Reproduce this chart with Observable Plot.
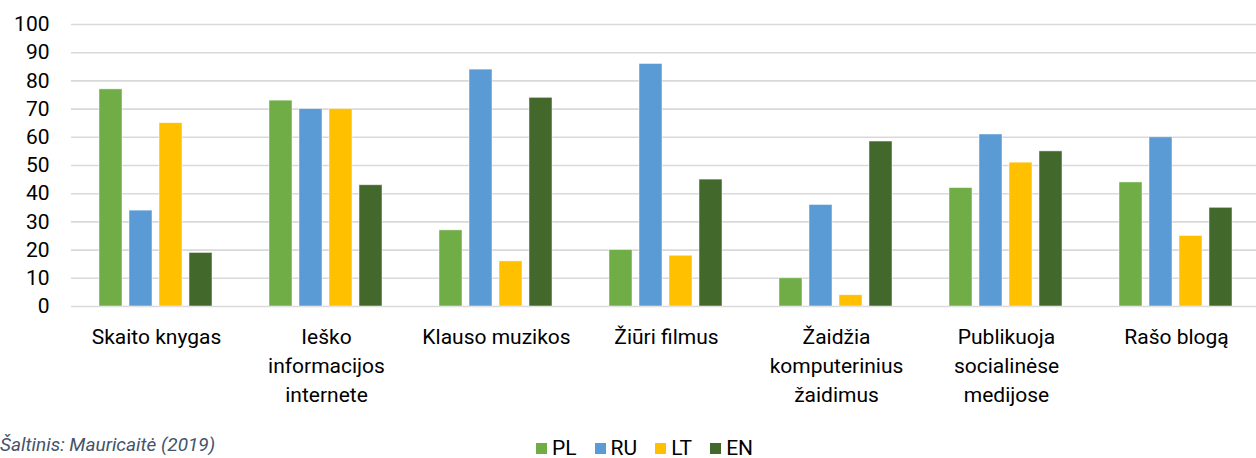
<!DOCTYPE html>
<html>
<head>
<meta charset="utf-8">
<script src="https://cdn.jsdelivr.net/npm/d3@7"></script>
<script src="https://cdn.jsdelivr.net/npm/@observablehq/plot@0.6"></script>
<style>
  html, body { margin: 0; padding: 0; background: #fff; overflow: hidden; }
  body { position: relative; width: 1256px; height: 458px; font-family: Roboto, "Open Sans", sans-serif; }
  #legend { position: absolute; left: 536px; top: 436px; display: flex; align-items: center; font-size: 21px; color: #000; }
  #legend .item { display: flex; align-items: center; margin-right: 18px; }
  #legend .sw { width: 11px; height: 11px; margin-right: 5px; }
  #caption { position: absolute; left: 0; top: 433px; font-size: 19px; line-height: 23px; font-style: italic; color: #44546A; white-space: nowrap; }
</style>
</head>
<body>
<div id="chart"></div>
<div id="legend"></div>
<div id="caption">Šaltinis: Mauricaitė (2019)</div>
<script>
const categories = ["Skaito knygas", "Ieško informacijos internete", "Klauso muzikos", "Žiūri filmus", "Žaidžia komputerinius žaidimus", "Publikuoja socialinėse medijose", "Rašo blogą"];
const categoryLabels = ["Skaito knygas", "Ieško\ninformacijos\ninternete", "Klauso muzikos", "Žiūri filmus", "Žaidžia\nkomputerinius\nžaidimus", "Publikuoja\nsocialinėse\nmedijose", "Rašo blogą"];
const series = ["PL", "RU", "LT", "EN"];
const colors = ["#70AD47", "#5B9BD5", "#FFC000", "#43682B"];
const valuesPL = [77, 73, 27, 20, 10, 42, 44];
const valuesRU = [34, 70, 84, 86, 36, 61, 60];
const valuesLT = [65, 70, 16, 18, 4, 51, 25];
const valuesEN = [19, 43, 74, 45, 58.5, 55, 35];
const yTicks = [0, 10, 20, 30, 40, 50, 60, 70, 80, 90, 100];

const seriesValues = [valuesPL, valuesRU, valuesLT, valuesEN];
const data = [];
categories.forEach((c, i) => {
  series.forEach((s, j) => data.push({category: c, series: s, value: seriesValues[j][i]}));
});

const chart = Plot.plot({
  width: 1256,
  height: 420,
  marginLeft: 68,
  marginRight: -7,
  marginTop: 24,
  marginBottom: 114,
  style: {fontFamily: "Roboto, 'Open Sans', sans-serif", fontSize: "21px", color: "#000", background: "white", overflow: "hidden"},
  fx: {domain: categories, padding: 0, label: null},
  x: {domain: series, paddingInner: 0.22, paddingOuter: 0.87, axis: null},
  y: {domain: [0, 100], label: null},
  color: {domain: series, range: colors},
  marks: [
    Plot.gridY(yTicks, {stroke: "#d9d9d9", strokeOpacity: 1, strokeWidth: 1.6}),
    Plot.barY(data, {fx: "category", x: "series", y: "value", fill: "series", stroke: "#ffffff", strokeOpacity: 0.6, strokeWidth: 0.8}),
    Plot.axisY(yTicks, {tickSize: 0, tickPadding: 22, fontSize: 21, label: null}),
    Plot.axisFx({anchor: "bottom", tickSize: 0, tickPadding: 17, fontSize: 21, lineHeight: 1.38, label: null,
      tickFormat: c => categoryLabels[categories.indexOf(c)]})
  ]
});
document.getElementById("chart").appendChild(chart);

const legend = document.getElementById("legend");
series.forEach((s, i) => {
  const item = document.createElement("div");
  item.className = "item";
  const sw = document.createElement("div");
  sw.className = "sw";
  sw.style.background = colors[i];
  const t = document.createElement("span");
  t.textContent = s;
  item.appendChild(sw);
  item.appendChild(t);
  legend.appendChild(item);
});
</script>
</body>
</html>
